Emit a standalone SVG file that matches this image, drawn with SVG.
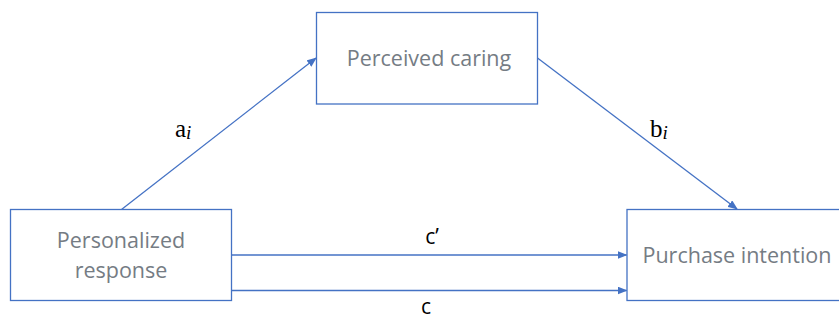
<svg xmlns="http://www.w3.org/2000/svg" width="839" height="320" viewBox="0 0 839 320">
  <style>
    .box { fill: #ffffff; stroke: #4472c4; stroke-width: 1.3; }
    .node-text { font-family: "Open Sans", "Noto Sans", sans-serif; font-size: 21.5px; fill: #757c84; text-anchor: middle; }
    .edge { stroke: #4472c4; stroke-width: 1.3; fill: none; marker-end: url(#arrow); }
    .math { font-family: "Liberation Serif", serif; font-size: 25px; fill: #000000; }
    .path-label { font-family: "Open Sans", "Liberation Sans", sans-serif; font-size: 21px; fill: #000000; text-anchor: middle; }
  </style>
  <defs>
    <marker id="arrow" markerWidth="10" markerHeight="8" refX="9" refY="4" orient="auto" markerUnits="userSpaceOnUse">
      <path d="M0,0 L10,4 L0,8 Z" fill="#4472c4"/>
    </marker>
  </defs>
  <rect width="839" height="320" fill="#ffffff"/>

  <g id="connectors">
    <line class="edge" x1="121.5" y1="209.5" x2="316" y2="58"/>
    <line class="edge" x1="537.5" y1="58" x2="737" y2="209"/>
    <line class="edge" x1="231.5" y1="255" x2="626.5" y2="255"/>
    <line class="edge" x1="231.5" y1="290.5" x2="626.5" y2="290.5"/>
  </g>

  <g id="perceived-caring">
    <rect class="box" x="316.5" y="12.5" width="221" height="91.5"/>
    <text class="node-text" x="429" y="66">Perceived caring</text>
  </g>

  <g id="personalized-response">
    <rect class="box" x="10.5" y="209.5" width="221" height="91"/>
    <text class="node-text" x="121" y="248">Personalized</text>
    <text class="node-text" x="121" y="278">response</text>
  </g>

  <g id="purchase-intention">
    <rect class="box" x="627" y="209.5" width="221" height="91"/>
    <text class="node-text" x="737" y="263">Purchase intention</text>
  </g>

  <g id="labels">
    <text class="math" x="175" y="137">a<tspan font-style="italic" font-size="19px" dy="2">i</tspan></text>
    <text class="math" x="650" y="137">b<tspan font-style="italic" font-size="19px" dy="2">i</tspan></text>
    <text class="path-label" x="432" y="244">c’</text>
    <text class="path-label" x="426" y="314">c</text>
  </g>
</svg>
